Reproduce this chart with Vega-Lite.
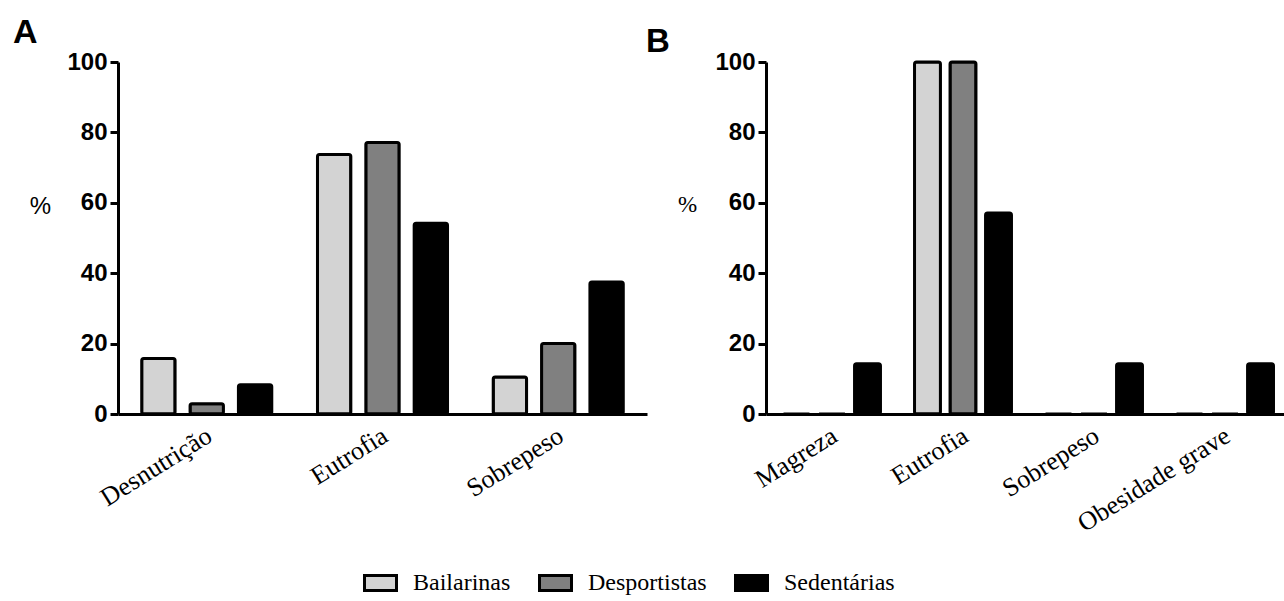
{
  "$schema": "https://vega.github.io/schema/vega-lite/v6.json",
  "background": "white",
  "padding": {"left": 13, "top": 16, "right": 0, "bottom": 0},
  "datasets": {
    "A": [
      {"categoria": "Desnutrição", "grupo": "Bailarinas", "pct": 15.8},
      {"categoria": "Desnutrição", "grupo": "Desportistas", "pct": 2.9},
      {"categoria": "Desnutrição", "grupo": "Sedentárias", "pct": 8.3},
      {"categoria": "Eutrofia", "grupo": "Bailarinas", "pct": 73.7},
      {"categoria": "Eutrofia", "grupo": "Desportistas", "pct": 77.1},
      {"categoria": "Eutrofia", "grupo": "Sedentárias", "pct": 54.2},
      {"categoria": "Sobrepeso", "grupo": "Bailarinas", "pct": 10.5},
      {"categoria": "Sobrepeso", "grupo": "Desportistas", "pct": 20.0},
      {"categoria": "Sobrepeso", "grupo": "Sedentárias", "pct": 37.5}
    ],
    "B": [
      {"categoria": "Magreza", "grupo": "Bailarinas", "pct": 0},
      {"categoria": "Magreza", "grupo": "Desportistas", "pct": 0},
      {"categoria": "Magreza", "grupo": "Sedentárias", "pct": 14.3},
      {"categoria": "Eutrofia", "grupo": "Bailarinas", "pct": 100},
      {"categoria": "Eutrofia", "grupo": "Desportistas", "pct": 100},
      {"categoria": "Eutrofia", "grupo": "Sedentárias", "pct": 57.1},
      {"categoria": "Sobrepeso", "grupo": "Bailarinas", "pct": 0},
      {"categoria": "Sobrepeso", "grupo": "Desportistas", "pct": 0},
      {"categoria": "Sobrepeso", "grupo": "Sedentárias", "pct": 14.3},
      {"categoria": "Obesidade grave", "grupo": "Bailarinas", "pct": 0},
      {"categoria": "Obesidade grave", "grupo": "Desportistas", "pct": 0},
      {"categoria": "Obesidade grave", "grupo": "Sedentárias", "pct": 14.3}
    ]
  },
  "hconcat": [
    {
      "title": {"text": "A", "anchor": "start", "frame": "group", "font": "Liberation Sans", "fontSize": 34, "fontWeight": "bold", "color": "black", "dx": -105, "baseline": "alphabetic", "offset": -27},
      "width": 529,
      "height": 352,
      "data": {"name": "A"},
      "mark": {"type": "bar", "stroke": "black", "strokeWidth": 3, "cornerRadius": 2},
      "encoding": {
        "x": {"field": "categoria", "type": "nominal", "sort": null,
          "scale": {"paddingInner": 0.26, "paddingOuter": 0.135},
          "axis": {"title": null, "labelAngle": -32, "labelAlign": "right", "labelBaseline": "top", "labelFont": "Liberation Serif", "labelFontSize": 26, "labelColor": "black", "ticks": false, "domainColor": "black", "domainWidth": 3, "labelPadding": 8, "labelOffset": -4}},
        "xOffset": {"field": "grupo", "type": "nominal", "sort": ["Bailarinas", "Desportistas", "Sedentárias"], "scale": {"paddingInner": 0.31, "paddingOuter": 0}},
        "y": {"field": "pct", "type": "quantitative", "scale": {"domain": [0, 100]},
          "axis": {"title": "%", "titleAngle": 0, "titleFont": "Liberation Sans", "titleFontSize": 24, "titleFontWeight": "normal", "titleColor": "black", "titleX": -78, "titleY": 144, "titleAlign": "center", "titleBaseline": "middle", "values": [0, 20, 40, 60, 80, 100], "labelFont": "Liberation Sans", "labelFontWeight": "bold", "labelFontSize": 24, "labelColor": "black", "domainColor": "black", "domainWidth": 3, "tickColor": "black", "tickWidth": 3, "tickSize": 8, "labelPadding": 3, "grid": false}},
        "color": {"field": "grupo", "type": "nominal",
          "scale": {"domain": ["Bailarinas", "Desportistas", "Sedentárias"], "range": ["#d3d3d3", "#808080", "#000000"]},
          "legend": {"orient": "none", "legendX": 245, "legendY": 503, "direction": "horizontal", "title": null, "symbolType": "M-1,-0.47L1,-0.47L1,0.47L-1,0.47Z", "symbolSize": 1024, "symbolStrokeColor": "black", "symbolStrokeWidth": 3, "symbolOpacity": 1, "labelFont": "Liberation Serif", "labelFontSize": 24, "labelColor": "black", "labelOffset": 15, "columnPadding": 22}}
      }
    },
    {
      "title": {"text": "B", "anchor": "start", "frame": "group", "font": "Liberation Sans", "fontSize": 33, "fontWeight": "bold", "color": "black", "dx": -120, "baseline": "alphabetic", "offset": -35},
      "width": 518,
      "height": 352,
      "data": {"name": "B"},
      "mark": {"type": "bar", "stroke": "black", "strokeWidth": 3, "cornerRadius": 2},
      "encoding": {
        "x": {"field": "categoria", "type": "nominal", "sort": null,
          "scale": {"paddingInner": 0.26, "paddingOuter": 0.107, "align": 0.625},
          "axis": {"title": null, "labelAngle": -32, "labelAlign": "right", "labelBaseline": "top", "labelFont": "Liberation Serif", "labelFontSize": 26, "labelColor": "black", "ticks": false, "domainColor": "black", "domainWidth": 3, "labelPadding": 8, "labelOffset": -4}},
        "xOffset": {"field": "grupo", "type": "nominal", "sort": ["Bailarinas", "Desportistas", "Sedentárias"], "scale": {"paddingInner": 0.27, "paddingOuter": 0}},
        "y": {"field": "pct", "type": "quantitative", "scale": {"domain": [0, 100]},
          "axis": {"title": "%", "titleAngle": 0, "titleFont": "Liberation Serif", "titleFontSize": 23, "titleFontWeight": "normal", "titleColor": "black", "titleX": -79, "titleY": 142, "titleAlign": "center", "titleBaseline": "middle", "values": [0, 20, 40, 60, 80, 100], "labelFont": "Liberation Sans", "labelFontWeight": "bold", "labelFontSize": 24, "labelColor": "black", "domainColor": "black", "domainWidth": 3, "tickColor": "black", "tickWidth": 3, "tickSize": 8, "labelPadding": 3, "grid": false}},
        "color": {"field": "grupo", "type": "nominal",
          "scale": {"domain": ["Bailarinas", "Desportistas", "Sedentárias"], "range": ["#d3d3d3", "#808080", "#000000"]}}
      }
    }
  ],
  "resolve": {"scale": {"xOffset": "independent", "x": "independent", "y": "independent"}},
  "spacing": 119,
  "bounds": "flush",
  "config": {"view": {"stroke": null}, "legend": {"labelFont": "Liberation Serif", "labelFontSize": 24}, "style": {"guide-label": {"font": "Liberation Serif"}}}
}
